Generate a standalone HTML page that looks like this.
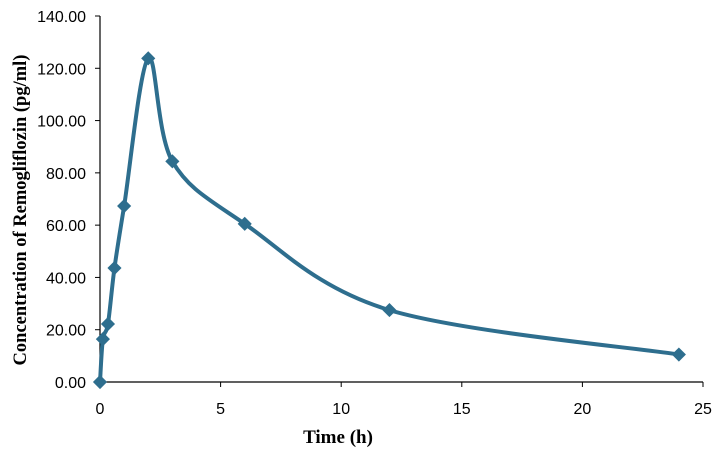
<!DOCTYPE html>
<html><head><meta charset="utf-8"><style>
body{margin:0;background:#fff;}
svg{display:block;}
</style></head><body>
<svg id="chart" width="721" height="455" xmlns="http://www.w3.org/2000/svg"></svg>
<script>
const times=[0,0.12,0.33,0.6,1,2,3,6,12,24];
const concs=[0,16.4,22.2,43.6,67.3,123.8,84.4,60.5,27.5,10.5];
const yTicks=[0,20,40,60,80,100,120,140];
const yTickLabels=["0.00","20.00","40.00","60.00","80.00","100.00","120.00","140.00"];
const xTicks=[0,5,10,15,20,25];
const X0=100,X1=703,Y0=382,Y1=16;
const xs=v=>X0+(v/25)*(X1-X0);
const ys=v=>Y0-(v/140)*(Y0-Y1);
const svg=document.getElementById('chart');
const NS='http://www.w3.org/2000/svg';
function mk(tag,attrs,parent){const e=document.createElementNS(NS,tag);for(const k in attrs)e.setAttribute(k,attrs[k]);(parent||svg).appendChild(e);return e;}
let ax=mk('line',{x1:X0,y1:Y1,x2:X0,y2:Y0,stroke:'#000','stroke-width':1.2});


let axx=mk('line',{x1:X0,y1:Y0,x2:X1,y2:Y0,stroke:'#000','stroke-width':1.2});


yTicks.forEach((v,i)=>{
  const y=ys(v);
  const t=mk('line',{x1:X0-5,y1:y,x2:X0,y2:y,stroke:'#000','stroke-width':1});
  
  
  const l=mk('text',{x:86,y:y+6,'text-anchor':'end','font-family':'Liberation Sans, sans-serif','font-size':16,fill:'#000'});
  l.textContent=yTickLabels[i];
  
  
});
xTicks.forEach(v=>{
  const x=xs(v);
  const t=mk('line',{x1:x,y1:Y0,x2:x,y2:Y0+5,stroke:'#000','stroke-width':1});
  
  
  const l=mk('text',{x:x,y:414,'text-anchor':'middle','font-family':'Liberation Sans, sans-serif','font-size':16,fill:'#000'});
  l.textContent=String(v);
  
  
});
const P=times.map((t,i)=>[xs(t),ys(concs[i])]);
let d='M'+P[0][0]+','+P[0][1];
for(let i=0;i<P.length-1;i++){
  const p0=P[i-1]||P[i],p1=P[i],p2=P[i+1],p3=P[i+2]||P[i+1];
  const k=1/6;
  const c1=[p1[0]+(p2[0]-p0[0])*k,p1[1]+(p2[1]-p0[1])*k];
  const c2=[p2[0]-(p3[0]-p1[0])*k,p2[1]-(p3[1]-p1[1])*k];
  d+=` C${c1[0]},${c1[1]} ${c2[0]},${c2[1]} ${p2[0]},${p2[1]}`;
}
const line=mk('path',{d:d,fill:'none',stroke:'#2e6e8e','stroke-width':4,'stroke-linejoin':'round'});


P.forEach(p=>{
  const m=mk('rect',{x:p[0]-5,y:p[1]-5,width:10,height:10,fill:'#2e6e8e',transform:`rotate(45 ${p[0]} ${p[1]})`});
  
  
});
const xt=mk('text',{x:338,y:443,'text-anchor':'middle','font-family':'Liberation Serif, serif','font-size':19,'font-weight':'bold',fill:'#000'});
xt.textContent='Time (h)';


const yt=mk('text',{x:0,y:0,'text-anchor':'middle','font-family':'Liberation Serif, serif','font-size':18.5,'font-weight':'bold',fill:'#000',transform:'translate(26,210) rotate(-90)'});
yt.textContent='Concentration of Remogliflozin (pg/ml)';


</script>
</body></html>
